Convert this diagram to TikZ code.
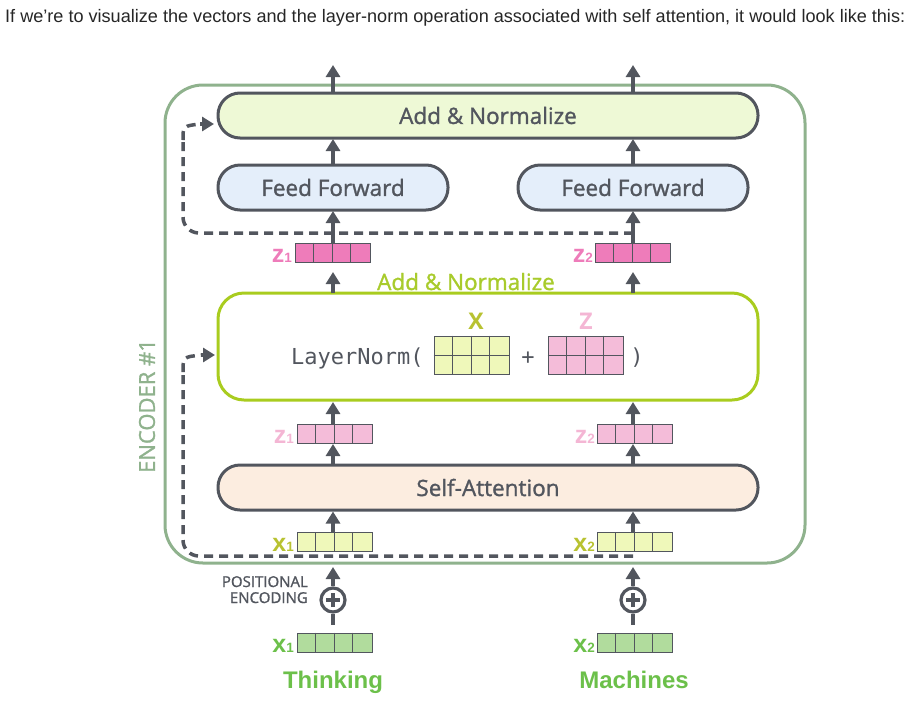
\documentclass[tikz,border=0pt]{standalone}
\usepackage{fontspec}
\setmainfont{Open Sans}
\newfontfamily\osemi[FakeBold=1.3]{Open Sans}
\newfontfamily\arialfont{Liberation Sans}
\newfontfamily\monofont{DejaVu Sans Mono}
\usetikzlibrary{arrows.meta}
\definecolor{dk}{HTML}{52565E}
\definecolor{encg}{HTML}{8FB28D}
\definecolor{anfill}{HTML}{EEF9D6}
\definecolor{fffill}{HTML}{E4EEFA}
\definecolor{safill}{HTML}{FCEDE0}
\definecolor{lnb}{HTML}{A9CC1F}
\definecolor{lntext}{HTML}{A8CB2C}
\definecolor{zdark}{HTML}{EE7CBA}
\definecolor{zlight}{HTML}{F4BCD9}
\definecolor{zlighttext}{HTML}{F4B6D4}
\definecolor{xyel}{HTML}{EFF8BA}
\definecolor{xyeltext}{HTML}{B8C231}
\definecolor{xgreen}{HTML}{B1DC9D}
\definecolor{xgreentext}{HTML}{6CC04A}
\newcommand\cellrow[4]{%
  \node[cellrowst, fill=#4] (#1) at (#2,#3) {};
  \foreach \k in {1,2,3}{\draw[celline] ([xshift=\k*18.75pt]#1.north west) -- ([xshift=\k*18.75pt]#1.south west);}
}
\newcommand\cellmat[4]{%
  \node[cellmatst, fill=#4] (#1) at (#2,#3) {};
  \foreach \k in {1,2,3}{\draw[celline] ([xshift=\k*18.75pt]#1.north west) -- ([xshift=\k*18.75pt]#1.south west);}
  \draw[celline] (#1.west) -- (#1.east);
}
\newcommand\sublab[2]{{\arialfont\bfseries\fontsize{25}{25}\selectfont #1}{\arialfont\bfseries\fontsize{13.5}{13.5}\selectfont #2}}
\begin{document}
\begin{tikzpicture}[x=1pt,y=-1pt,
  pillbox/.style={draw=dk, line width=3pt, rounded corners=22pt, minimum height=45pt, inner sep=0pt, text=dk, font=\osemi\fontsize{22.5}{22.5}\selectfont},
  arr/.style={draw=dk, line width=3.5pt, -{Triangle[width=14pt,length=12pt]}},
  dsh/.style={draw=dk, line width=3.5pt, dash pattern=on 9pt off 6pt},
  cellrowst/.style={draw=dk, line width=0.9pt, minimum width=75pt, minimum height=19pt, inner sep=0pt},
  cellmatst/.style={draw=dk, line width=0.9pt, minimum width=75pt, minimum height=38pt, inner sep=0pt},
  celline/.style={draw=dk, line width=0.9pt},
  lab/.style={inner sep=0pt, anchor=base east},
]
\useasboundingbox (0,0) rectangle (912,710);
% heading
\node[anchor=base west, inner sep=0pt, text=black!85] (head) at (5,22.5)
  {\resizebox{900pt}{!}{\arialfont\fontsize{15}{15}\selectfont If we’re to visualize the vectors and the layer-norm operation associated with self attention, it would look like this:}};
% encoder frame
\draw[encg, line width=3pt, rounded corners=38pt] (165,85) rectangle (805,563);
\node[rotate=90, text=encg, font=\osemi\fontsize{22}{22}\selectfont, inner sep=0pt] (enc) at (147,406) {ENCODER \#1};
% boxes
\node[pillbox, fill=anfill, minimum width=540pt] (an) at (488,115.5) {Add \& Normalize};
\node[pillbox, fill=fffill, minimum width=230pt] (ff1) at (333,187.5) {Feed Forward};
\node[pillbox, fill=fffill, minimum width=230pt] (ff2) at (633,187.5) {Feed Forward};
\node[pillbox, fill=safill, minimum width=540pt] (sa) at (488,487.5) {Self-Attention};
\node[draw=lnb, line width=3pt, rounded corners=26pt, minimum width=540pt, minimum height=107pt, inner sep=0pt] (ln) at (488,346.5) {};
% LayerNorm content
\node[anchor=base west, inner sep=0pt, text=dk, font=\monofont\fontsize{22}{22}\selectfont] (lntxt) at (291,364) {LayerNorm(};
\node[anchor=base, inner sep=0pt, text=dk, font=\monofont\fontsize{22}{22}\selectfont] (plus) at (528,364) {+};
\node[anchor=base, inner sep=0pt, text=dk, font=\monofont\fontsize{22}{22}\selectfont] (rpar) at (637,364) {)};
\cellmat{X}{471.5}{355}{xyel}
\cellmat{Z}{585.5}{355}{zlight}
\node[anchor=base, inner sep=0pt, text=xyeltext, font=\bfseries\fontsize{23}{23}\selectfont] (Xl) at (476,329) {X};
\node[anchor=base, inner sep=0pt, text=zlighttext, font=\bfseries\fontsize{23}{23}\selectfont] (Zl) at (586,329) {Z};
\node[anchor=base, inner sep=0pt, text=lntext, font=\osemi\fontsize{22.5}{22.5}\selectfont] (antxt) at (466,290) {Add \& Normalize};
% vectors
\cellrow{zd1}{332.5}{252.5}{zdark}
\cellrow{zd2}{632.5}{252.5}{zdark}
\cellrow{zl1}{334.5}{433.5}{zlight}
\cellrow{zl2}{634.5}{433.5}{zlight}
\cellrow{xy1}{334.5}{542}{xyel}
\cellrow{xy2}{634.5}{542}{xyel}
\cellrow{xg1}{334.5}{642.5}{xgreen}
\cellrow{xg2}{634.5}{642.5}{xgreen}
\node[lab, text=zdark] (zd1l) at (292,262) {\sublab{z}{1}};
\node[lab, text=zdark] (zd2l) at (593,262) {\sublab{z}{2}};
\node[lab, text=zlighttext] (zl1l) at (294,443) {\sublab{z}{1}};
\node[lab, text=zlighttext] (zl2l) at (595,443) {\sublab{z}{2}};
\node[lab, text=xyeltext] (xy1l) at (294,551.5) {\sublab{x}{1}};
\node[lab, text=xyeltext] (xy2l) at (595,551.5) {\sublab{x}{2}};
\node[lab, text=xgreentext] (xg1l) at (294,652) {\sublab{x}{1}};
\node[lab, text=xgreentext] (xg2l) at (595,652) {\sublab{x}{2}};
% words
\node[anchor=base, inner sep=0pt, text=xgreentext, font=\arialfont\bfseries\fontsize{24}{24}\selectfont] (w1) at (333,688) {Thinking};
\node[anchor=base, inner sep=0pt, text=xgreentext, font=\arialfont\bfseries\fontsize{24}{24}\selectfont] (w2) at (634,688) {Machines};
% positional encoding
\node[anchor=base east, inner sep=0pt, text=dk, font=\osemi\fontsize{15}{15}\selectfont] (pe1) at (308,587) {POSITIONAL};
\node[anchor=base east, inner sep=0pt, text=dk, font=\osemi\fontsize{15}{15}\selectfont] (pe2) at (308,603) {ENCODING};
\foreach \n/\xx in {pa/333, pb/633}{
  \node[circle, draw=dk, line width=3.2pt, minimum size=24pt, inner sep=0pt] (\n) at (\xx,600) {};
  \draw[dk, line width=3.2pt] ([yshift=-7pt]\n.center) -- ([yshift=7pt]\n.center) ([xshift=-7pt]\n.center) -- ([xshift=7pt]\n.center);
}
\coordinate (pa0) at (333,625);
\coordinate (pb0) at (633,625);
\coordinate (pat) at (333,567);
\coordinate (pbt) at (633,567);
\draw[dk, line width=3.5pt] (pa.south) -- (pa0);
\draw[dk, line width=3.5pt] (pb.south) -- (pb0);
\draw[arr] (pa.north) -- (pat);
\draw[arr] (pb.north) -- (pbt);
% arrows in encoder
\draw[arr] (333,532) -- (333,511.5);
\draw[arr] (633,532) -- (633,511.5);
\draw[arr] (333,464) -- (333,444);
\draw[arr] (633,464) -- (633,444);
\draw[arr] (333,424) -- (333,402);
\draw[arr] (633,424) -- (633,402);
\draw[arr] (333,293) -- (333,272);
\draw[arr] (633,293) -- (633,272);
\draw[arr] (333,243) -- (333,211);
\draw[arr] (633,243) -- (633,211);
\draw[arr] (333,165) -- (333,139);
\draw[arr] (633,165) -- (633,139);
\draw[arr] (333,93) -- (333,65);
\draw[arr] (633,93) -- (633,65);
% residual dashed paths
\coordinate (r1s) at (633,233);
\coordinate (r1c) at (183,233);
\coordinate (r1t) at (214,124);
\draw[dsh, rounded corners=16pt] (r1s) -- (r1c) -- (183,140);
\draw[dsh] (183,140) .. controls (183,126) .. (200,124);
\draw[draw=dk, line width=3.5pt, -{Triangle[width=14pt,length=12pt]}] (200,124) -- (r1t);
\coordinate (r2s) at (633,556);
\coordinate (r2c) at (183,556);
\coordinate (r2t) at (215,355);
\draw[dsh, rounded corners=16pt] (r2s) -- (r2c) -- (183,372);
\draw[dsh] (183,372) .. controls (183,357) .. (201,355);
\draw[draw=dk, line width=3.5pt, -{Triangle[width=14pt,length=12pt]}] (201,355) -- (r2t);
\end{tikzpicture}
\end{document}
